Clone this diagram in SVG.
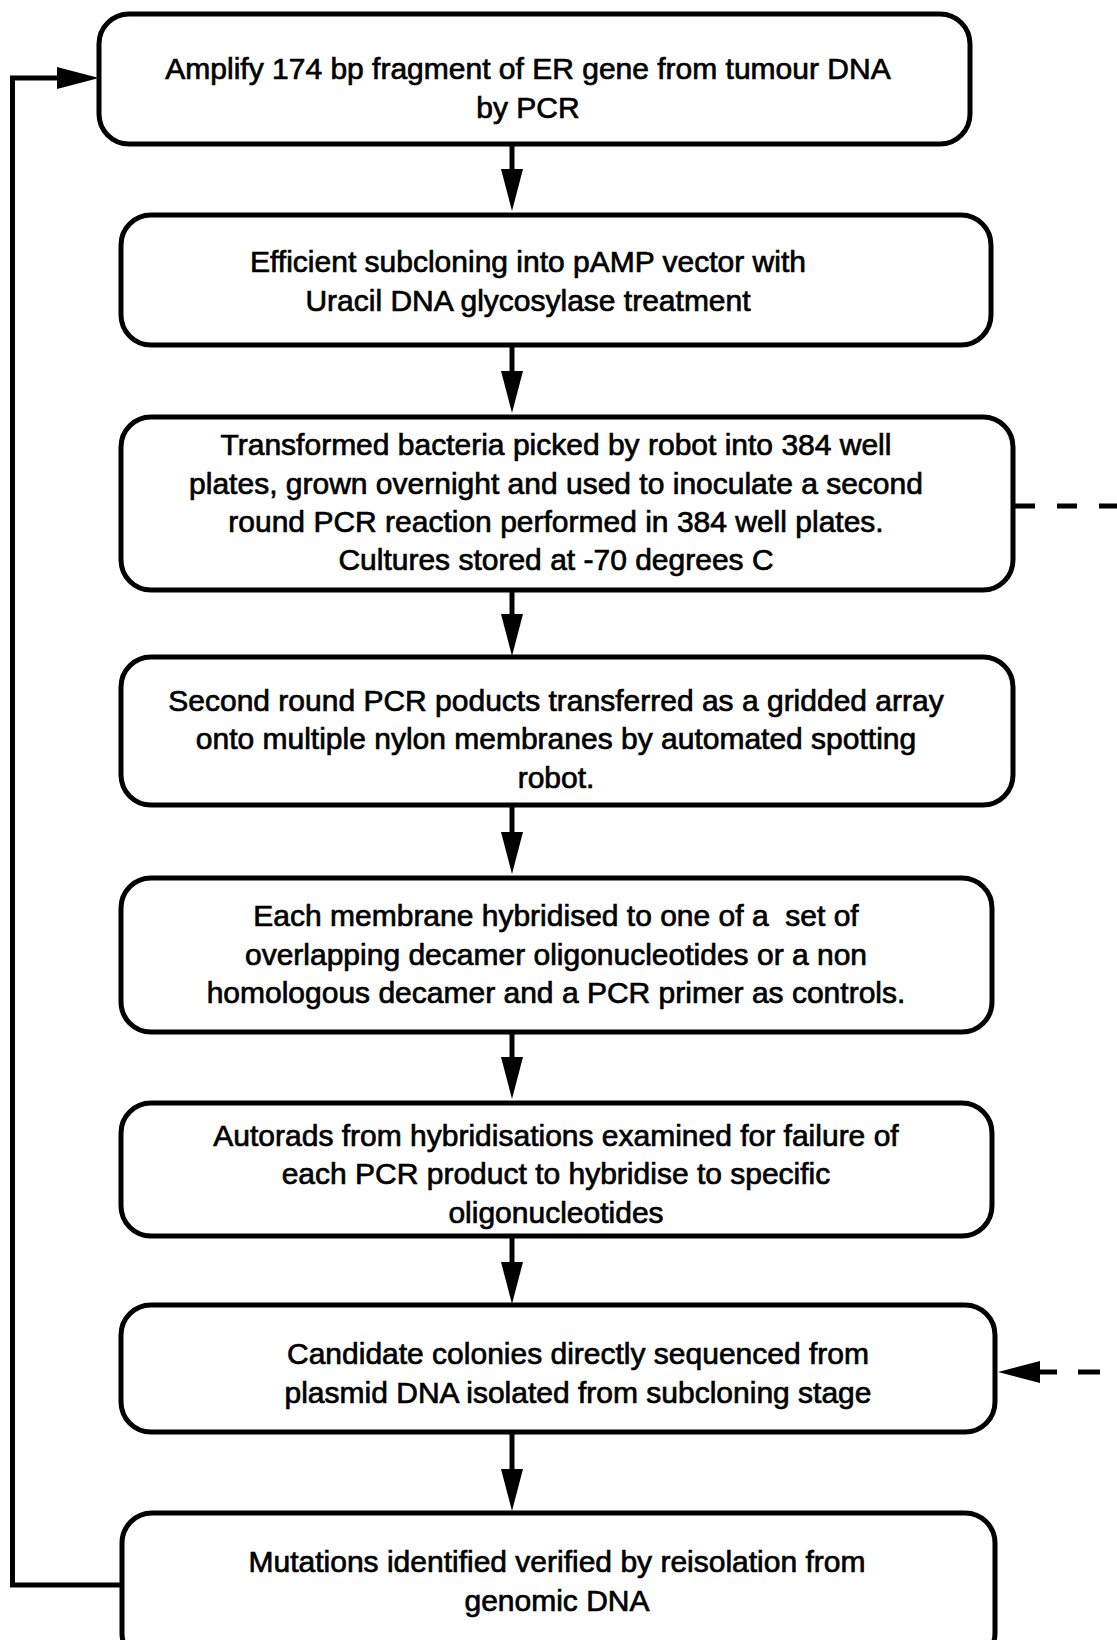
<svg xmlns="http://www.w3.org/2000/svg" width="1117" height="1640" viewBox="0 0 1117 1640">
<style>
.box{fill:#fff;stroke:#000;stroke-width:5}
.t{font-family:"Liberation Sans",Arial,sans-serif;font-size:30px;fill:#000;stroke:#000;stroke-width:0.7;text-anchor:middle}
.c{fill:none;stroke:#000;stroke-width:5}
.d{fill:none;stroke:#000;stroke-width:5}
</style>
<defs>
<marker id="ah" markerUnits="userSpaceOnUse" viewBox="0 0 42 22" refX="0" refY="11" markerWidth="42" markerHeight="22" orient="auto">
<path d="M0,0 L42,11 L0,22 Z" fill="#000"/>
</marker>
</defs>
<rect width="1117" height="1640" fill="#fff"/>
<g id="connectors">
<path class="c" d="M512,146 V169" marker-end="url(#ah)"/>
<path class="c" d="M512,347 V371" marker-end="url(#ah)"/>
<path class="c" d="M512,592 V614" marker-end="url(#ah)"/>
<path class="c" d="M512,807 V832" marker-end="url(#ah)"/>
<path class="c" d="M512,1034 V1057" marker-end="url(#ah)"/>
<path class="c" d="M512,1238 V1262" marker-end="url(#ah)"/>
<path class="c" d="M512,1434 V1469" marker-end="url(#ah)"/>
<path class="c" d="M122,1585 H12.5 V78 H57" marker-end="url(#ah)"/>
<path class="d" d="M1015,506 H1117" stroke-dasharray="20 22"/>
<path class="d" d="M1117,1372 H1040" stroke-dasharray="0 17 22 21 60" marker-end="url(#ah)"/>
</g>
<g id="n1">
<rect class="box" x="99" y="14" width="871" height="130" rx="30"/>
<text class="t" x="528" y="79">Amplify 174 bp fragment of ER gene from tumour DNA</text>
<text class="t" x="528" y="118">by PCR</text>
</g>
<g id="n2">
<rect class="box" x="121" y="215" width="870" height="130" rx="30"/>
<text class="t" x="528" y="272">Efficient subcloning into pAMP vector with</text>
<text class="t" x="528" y="311">Uracil DNA glycosylase treatment</text>
</g>
<g id="n3">
<rect class="box" x="121" y="417" width="892" height="173" rx="30"/>
<text class="t" x="556" y="455">Transformed bacteria picked by robot into 384 well</text>
<text class="t" x="556" y="494">plates, grown overnight and used to inoculate a second</text>
<text class="t" x="556" y="532">round PCR reaction performed in 384 well plates.</text>
<text class="t" x="556" y="570">Cultures stored at -70 degrees C</text>
</g>
<g id="n4">
<rect class="box" x="121" y="657" width="892" height="148" rx="30"/>
<text class="t" x="556" y="711">Second round PCR poducts transferred as a gridded array</text>
<text class="t" x="556" y="749">onto multiple nylon membranes by automated spotting</text>
<text class="t" x="556" y="788">robot.</text>
</g>
<g id="n5">
<rect class="box" x="121" y="878" width="871" height="154" rx="30"/>
<text class="t" x="556" y="926" xml:space="preserve">Each membrane hybridised to one of a  set of</text>
<text class="t" x="556" y="965">overlapping decamer oligonucleotides or a non</text>
<text class="t" x="556" y="1003">homologous decamer and a PCR primer as controls.</text>
</g>
<g id="n6">
<rect class="box" x="121" y="1103" width="871" height="133" rx="30"/>
<text class="t" x="556" y="1146">Autorads from hybridisations examined for failure of</text>
<text class="t" x="556" y="1184">each PCR product to hybridise to specific</text>
<text class="t" x="556" y="1223">oligonucleotides</text>
</g>
<g id="n7">
<rect class="box" x="121" y="1305" width="874" height="127" rx="30"/>
<text class="t" x="578" y="1364">Candidate colonies directly sequenced from</text>
<text class="t" x="578" y="1403">plasmid DNA isolated from subcloning stage</text>
</g>
<g id="n8">
<rect class="box" x="122" y="1513" width="873" height="150" rx="30"/>
<text class="t" x="557" y="1572">Mutations identified verified by reisolation from</text>
<text class="t" x="557" y="1611">genomic DNA</text>
</g>
</svg>
